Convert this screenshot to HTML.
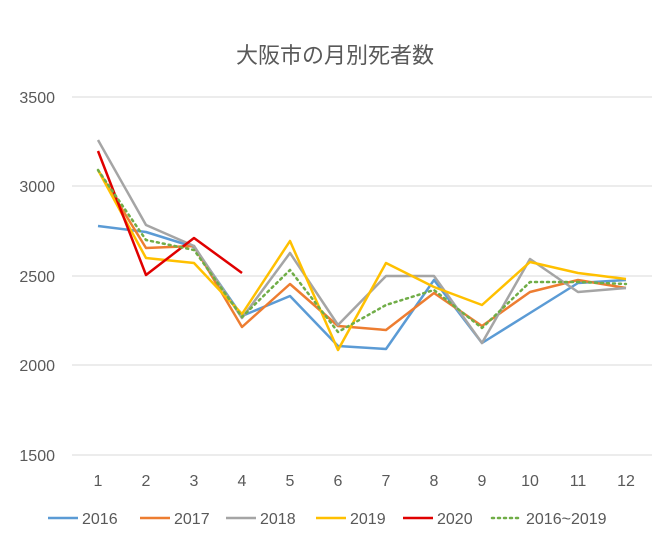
<!DOCTYPE html>
<html><head><meta charset="utf-8"><style>
body{margin:0;background:#fff;}
svg text{font-family:"Liberation Sans","Noto Sans CJK JP",sans-serif;fill:#595959;}
</style></head><body>
<svg width="671" height="544" viewBox="0 0 671 544" xmlns="http://www.w3.org/2000/svg">
<rect width="671" height="544" fill="#fff"/>
<text x="335" y="63" font-size="22" text-anchor="middle">大阪市の月別死者数</text>
<g stroke="#d9d9d9" stroke-width="1">
<line x1="72" y1="97" x2="652" y2="97"/><line x1="72" y1="186" x2="652" y2="186"/>
<line x1="72" y1="276" x2="652" y2="276"/><line x1="72" y1="365" x2="652" y2="365"/>
<line x1="72" y1="455" x2="652" y2="455"/></g>
<g font-size="16" text-anchor="end">
<text x="55" y="103">3500</text><text x="55" y="192">3000</text><text x="55" y="282">2500</text>
<text x="55" y="371">2000</text><text x="55" y="461">1500</text></g>
<g font-size="16" text-anchor="middle">
<text x="98" y="486">1</text><text x="146" y="486">2</text><text x="194" y="486">3</text><text x="242" y="486">4</text>
<text x="290" y="486">5</text><text x="338" y="486">6</text><text x="386" y="486">7</text><text x="434" y="486">8</text>
<text x="482" y="486">9</text><text x="530" y="486">10</text><text x="578" y="486">11</text><text x="626" y="486">12</text></g>
<g fill="none" stroke-width="2.5" stroke-linejoin="round">
<polyline stroke="#5b9bd5" points="98,226 146,232 194,247 242,316 290,296 338,346 386,349 434,280 482,343 530,313 578,283 626,280"/>
<polyline stroke="#ed7d31" points="98,170 146,248 194,246 242,327 290,284 338,326 386,330 434,293 482,326 530,292 578,280 626,288"/>
<polyline stroke="#a5a5a5" points="98,140 146,225 194,246 242,318 290,253 338,325 386,276 434,276 482,343 530,259 578,292 626,288"/>
<polyline stroke="#ffc000" points="98,170 146,258 194,263 242,314 290,241 338,350 386,263 434,287 482,305 530,262 578,273 626,279"/>
<polyline stroke="#e00000" points="98,151 146,275 194,238 242,273"/>
<polyline stroke="#70ad47" stroke-dasharray="2,4" stroke-linecap="round" points="98,170 146,240 194,250 242,317 290,270 338,332 386,305 434,290 482,328 530,282 578,282 626,284"/>
</g>
<g font-size="16" stroke-width="2.5">
<line x1="48" y1="518" x2="78" y2="518" stroke="#5b9bd5"/><text x="82" y="524">2016</text>
<line x1="140" y1="518" x2="170" y2="518" stroke="#ed7d31"/><text x="174" y="524">2017</text>
<line x1="226" y1="518" x2="256" y2="518" stroke="#a5a5a5"/><text x="260" y="524">2018</text>
<line x1="316" y1="518" x2="346" y2="518" stroke="#ffc000"/><text x="350" y="524">2019</text>
<line x1="403" y1="518" x2="433" y2="518" stroke="#e00000"/><text x="437" y="524">2020</text>
<line x1="492" y1="518" x2="522" y2="518" stroke="#70ad47" stroke-dasharray="2,4" stroke-linecap="round"/><text x="526" y="524">2016~2019</text>
</g>
</svg>
</body></html>
